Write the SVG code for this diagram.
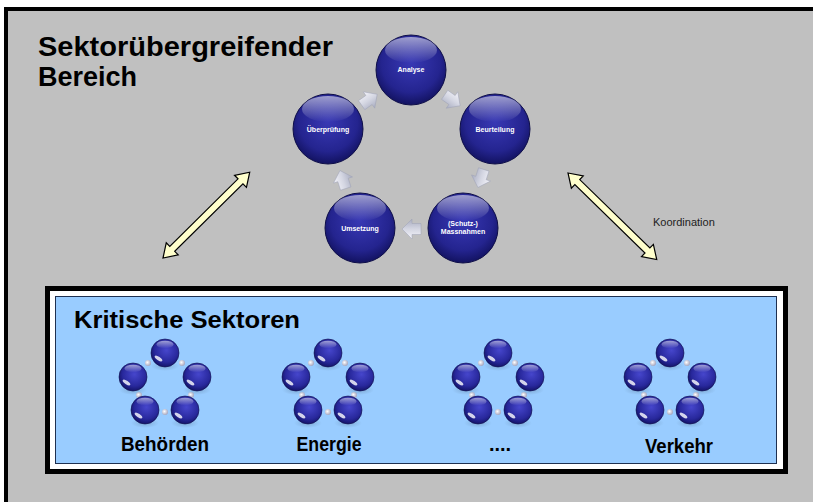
<svg xmlns="http://www.w3.org/2000/svg" width="813" height="502" viewBox="0 0 813 502">
<defs>
<radialGradient id="gBig" cx="50%" cy="40%" r="60%">
<stop offset="0" stop-color="#3838b4"/>
<stop offset="0.7" stop-color="#24248f"/>
<stop offset="1" stop-color="#121260"/>
</radialGradient>
<linearGradient id="gShine" x1="0" y1="0" x2="0" y2="1">
<stop offset="0" stop-color="#ffffff" stop-opacity="0.55"/>
<stop offset="1" stop-color="#ffffff" stop-opacity="0"/>
</linearGradient>
<radialGradient id="gBall" cx="55%" cy="40%" r="60%">
<stop offset="0" stop-color="#4646cc"/>
<stop offset="0.7" stop-color="#28289c"/>
<stop offset="1" stop-color="#14146a"/>
</radialGradient>
<radialGradient id="gShadow" cx="50%" cy="50%" r="50%">
<stop offset="0" stop-color="#6080a0" stop-opacity="0.45"/>
<stop offset="1" stop-color="#6080a0" stop-opacity="0"/>
</radialGradient>
<radialGradient id="gDot" cx="40%" cy="40%" r="60%">
<stop offset="0" stop-color="#ffffff"/>
<stop offset="1" stop-color="#a8a8c0"/>
</radialGradient>
<linearGradient id="gArr" x1="0" y1="0" x2="0" y2="1">
<stop offset="0" stop-color="#f4f4fa"/>
<stop offset="0.5" stop-color="#d4d6e2"/>
<stop offset="1" stop-color="#a8acc0"/>
</linearGradient>
<g id="ball">
<ellipse cx="0" cy="13" rx="14" ry="5" fill="url(#gShadow)"/>
<circle r="14" fill="url(#gBall)" stroke="#10104e" stroke-width="0.6"/>
<ellipse cx="0" cy="-8.5" rx="8.5" ry="3.8" fill="url(#gShine)"/>
<ellipse cx="-6.5" cy="5.5" rx="4.5" ry="1.7" fill="#ffffff" fill-opacity="0.8" transform="rotate(35 -6.5 5.5)"/>
</g>
<g id="dot"><circle r="3" fill="url(#gDot)"/></g>
<g id="mini">
<use href="#dot" x="-17" y="-22"/>
<use href="#dot" x="17" y="-22"/>
<use href="#dot" x="-26" y="10"/>
<use href="#dot" x="26" y="10"/>
<use href="#dot" x="0" y="27"/>
<use href="#ball" x="0" y="-32"/>
<use href="#ball" x="-32" y="-8"/>
<use href="#ball" x="32" y="-8"/>
<use href="#ball" x="-20" y="25"/>
<use href="#ball" x="20" y="25"/>
</g>
<polygon id="chev" points="-9,-5.5 0,-5.5 0,-10 10,0 0,10 0,5.5 -9,5.5" fill="url(#gArr)" stroke="#9ea2b6" stroke-width="0.5"/>
</defs>
<style>
.title{font-family:"Liberation Sans",Arial,sans-serif;font-weight:bold;fill:#000}
.ct{font-family:"Liberation Sans",Arial,sans-serif;font-weight:bold;font-size:7px;fill:#fff;text-anchor:middle}
.lbl{font-family:"Liberation Sans",Arial,sans-serif;font-weight:bold;font-size:20px;fill:#000;text-anchor:middle}
.big{fill:url(#gBig);stroke:#0e0e48;stroke-width:1}
.dbl{fill:#ffffcc;stroke:#000;stroke-width:1.2;stroke-linejoin:miter}
</style>
<rect x="0" y="0" width="813" height="502" fill="#ffffff"/>
<rect x="6" y="9" width="807" height="493" fill="#c0c0c0"/>
<rect x="4" y="7" width="809" height="4" fill="#000"/>
<rect x="4" y="7" width="4" height="495" fill="#000"/>
<text class="title" x="38" y="56" font-size="27" textLength="295" lengthAdjust="spacingAndGlyphs">Sektorübergreifender</text>
<text class="title" x="38" y="86" font-size="27">Bereich</text>

<g id="connectors">
<polygon class="dbl" transform="translate(163,258) rotate(-44.7)" points="0,0 13,-8.5 13,-3.5 109,-3.5 109,-8.5 122,0 109,8.5 109,3.5 13,3.5 13,8.5"/>
<polygon class="dbl" transform="translate(568,173) rotate(44.3)" points="0,0 13,-8.5 13,-3.5 111,-3.5 111,-8.5 124,0 111,8.5 111,3.5 13,3.5 13,8.5"/>
<use href="#chev" transform="translate(452,100) rotate(35)"/>
<use href="#chev" transform="translate(481,178) rotate(108)"/>
<use href="#chev" transform="translate(412,229) rotate(180)"/>
<use href="#chev" transform="translate(343,180) rotate(252)"/>
<use href="#chev" transform="translate(369,100) rotate(-35)"/>
</g>
<text x="653" y="226" font-family="'Liberation Sans',Arial,sans-serif" font-size="11" fill="#222">Koordination</text>

<g id="n-analyse">
<circle class="big" cx="411" cy="70" r="35"/>
<ellipse cx="411" cy="50" rx="26" ry="13" fill="url(#gShine)"/>
<text class="ct" x="411" y="72">Analyse</text>
</g>
<g id="n-beurteilung">
<circle class="big" cx="495" cy="129" r="35"/>
<ellipse cx="495" cy="109" rx="26" ry="13" fill="url(#gShine)"/>
<text class="ct" x="495" y="132">Beurteilung</text>
</g>
<g id="n-massnahmen">
<circle class="big" cx="463" cy="228" r="35"/>
<ellipse cx="463" cy="208" rx="26" ry="13" fill="url(#gShine)"/>
<text class="ct" x="463" y="226">(Schutz-)</text>
<text class="ct" x="463" y="234">Massnahmen</text>
</g>
<g id="n-umsetzung">
<circle class="big" cx="360" cy="228" r="35"/>
<ellipse cx="360" cy="208" rx="26" ry="13" fill="url(#gShine)"/>
<text class="ct" x="360" y="231">Umsetzung</text>
</g>
<g id="n-ueberpruefung">
<circle class="big" cx="328" cy="129" r="35"/>
<ellipse cx="328" cy="109" rx="26" ry="13" fill="url(#gShine)"/>
<text class="ct" x="328" y="132">Überprüfung</text>
</g>

<g id="n-kritische-sektoren">
<rect x="47.5" y="288.5" width="738" height="183" fill="#ffffff" stroke="#000" stroke-width="5"/>
<rect x="55.5" y="296.5" width="721" height="167" fill="#99ccff" stroke="#1f3050" stroke-width="1"/>
<text class="title" x="74" y="328" font-size="24.5" textLength="226" lengthAdjust="spacingAndGlyphs">Kritische Sektoren</text>
</g>
<g id="n-behoerden">
<use href="#mini" x="165" y="385"/>
<text class="lbl" x="165" y="451" textLength="88" lengthAdjust="spacingAndGlyphs">Behörden</text>
</g>
<g id="n-energie">
<use href="#mini" x="328" y="385"/>
<text class="lbl" x="329" y="451" textLength="65" lengthAdjust="spacingAndGlyphs">Energie</text>
</g>
<g id="n-weitere">
<use href="#mini" x="498" y="385"/>
<text class="lbl" x="500" y="451">....</text>
</g>
<g id="n-verkehr">
<use href="#mini" x="670" y="385"/>
<text class="lbl" x="679" y="453" textLength="68" lengthAdjust="spacingAndGlyphs">Verkehr</text>
</g>
</svg>
